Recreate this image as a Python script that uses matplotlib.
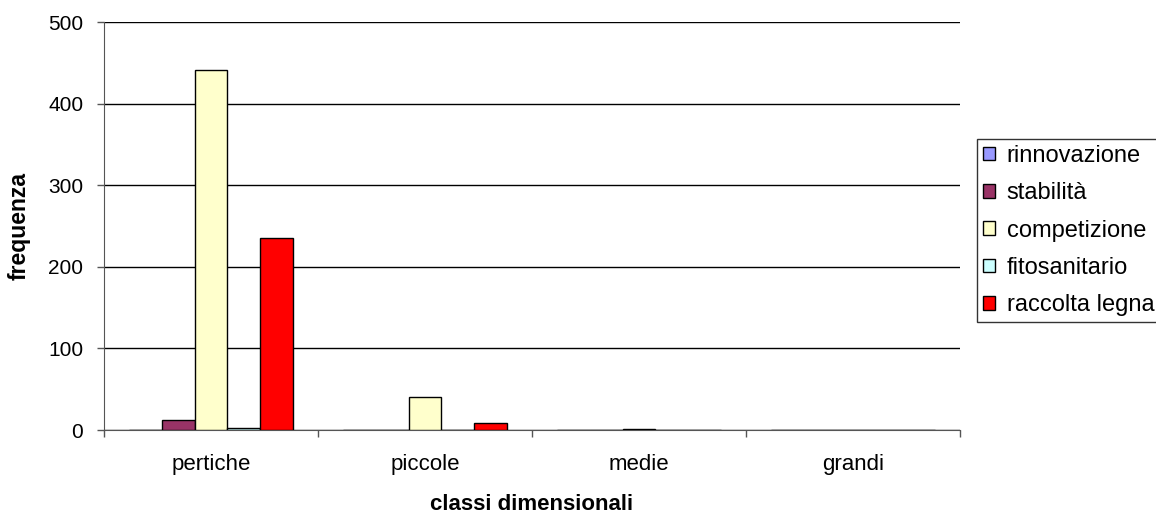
import matplotlib
matplotlib.use("Agg")
import matplotlib.pyplot as plt
import numpy as np

plt.rcParams['font.family'] = ['Liberation Sans', 'DejaVu Sans']

classi = ['pertiche', 'piccole', 'medie', 'grandi']
rinnovazione = [0, 0, 0, 0]
stabilita = [12, 0, 0, 0]
competizione = [441, 40, 1, 0]
fitosanitario = [2, 0, 0, 0]
raccolta_legna = [235, 8, 0, 0]

serie = [
    ('rinnovazione', rinnovazione, '#9999FF'),
    ('stabilità', stabilita, '#993366'),
    ('competizione', competizione, '#FFFFCC'),
    ('fitosanitario', fitosanitario, '#CCFFFF'),
    ('raccolta legna', raccolta_legna, '#FF0000'),
]

fig = plt.figure(figsize=(11.56, 5.16), dpi=100)
ax = fig.add_axes([104 / 1156, 86 / 516, 856 / 1156, 408 / 516])

x = np.arange(len(classi))
w = 1 / 6.5
for i, (nome, valori, colore) in enumerate(serie):
    ax.bar(x + (i - 2) * w, valori, w, color=colore, edgecolor='black',
           linewidth=1, label=nome, zorder=3)

ax.set_xlim(-0.5, len(classi) - 0.5)
ax.set_ylim(0, 500)
ax.set_yticks(range(0, 501, 100))
ax.yaxis.grid(True, color='black', linewidth=1, zorder=0)

ax.set_xticks(x)
ax.set_xticklabels(classi, fontsize=16)
ax.tick_params(axis='x', length=0, pad=17)
ax.set_xticks(np.arange(-0.5, len(classi)), minor=True)
ax.tick_params(axis='x', which='minor', length=5, width=1, color='#555555')
ax.tick_params(axis='y', labelsize=15, length=5, width=1, color='#555555', pad=10)

for s in ['top', 'right']:
    ax.spines[s].set_visible(False)
ax.spines['left'].set_color('#555555')
ax.spines['bottom'].set_color('#555555')

# titoli degli assi posizionati a mano
fig.text(532 / 1156, 1 - 505 / 516, 'classi dimensionali', fontsize=16,
         fontweight='bold', ha='center', va='center')
fig.text(19 / 1156, 1 - 226 / 516, 'frequenza', fontsize=16.5,
         fontweight='bold', ha='center', va='center', rotation=90)

leg = fig.legend(loc='upper left', bbox_to_anchor=(977 / 1156, 377 / 516),
                 bbox_transform=fig.transFigure, borderaxespad=0,
                 fontsize=17, handlelength=0.5, handleheight=0.5,
                 handletextpad=0.5, labelspacing=0.65, borderpad=0.25,
                 fancybox=False, frameon=True)
leg.get_frame().set_edgecolor('black')
leg.get_frame().set_linewidth(1)

fig.savefig('out.png', dpi=100)
